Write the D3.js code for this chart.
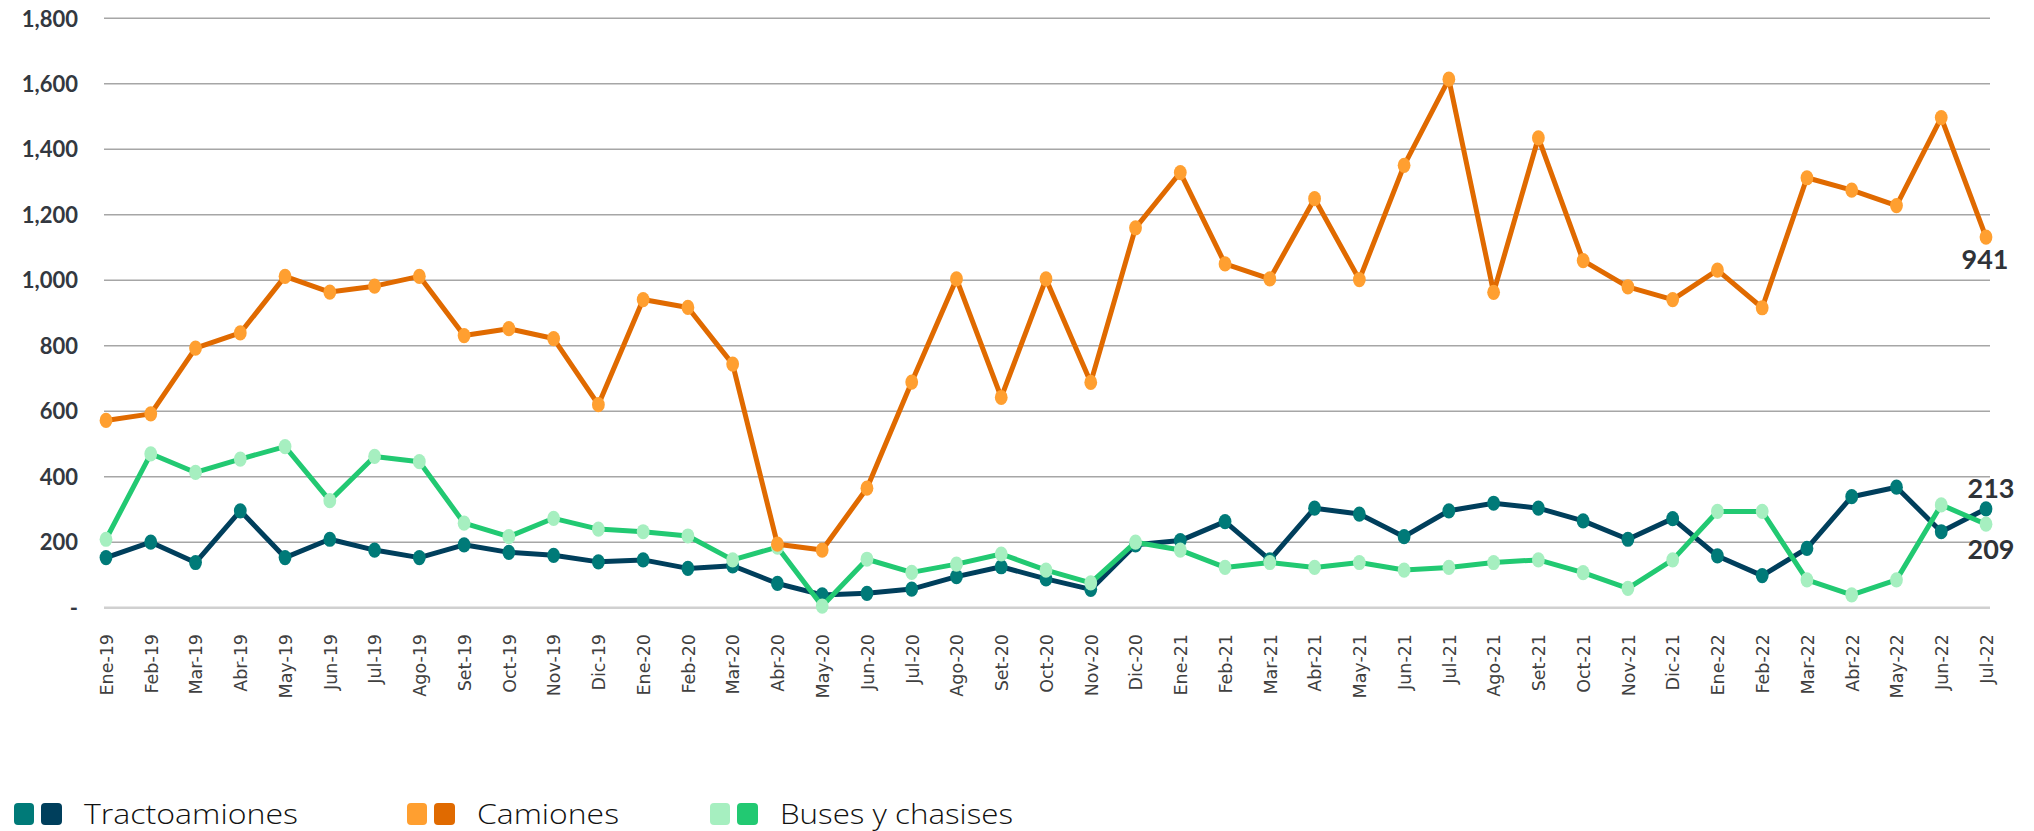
<!DOCTYPE html>
<html>
<head>
<meta charset="utf-8">
<script src="https://cdn.jsdelivr.net/npm/d3@7"></script>
<style>
  html, body { margin: 0; padding: 0; background: #ffffff; }
  svg { display: block; }
</style>
</head>
<body>
<svg id="chart" width="2034" height="831"></svg>
<script>
// Monthly categories, Jan 2019 – Jul 2022
const months = [
  "Ene-19","Feb-19","Mar-19","Abr-19","May-19","Jun-19","Jul-19","Ago-19","Set-19","Oct-19","Nov-19","Dic-19",
  "Ene-20","Feb-20","Mar-20","Abr-20","May-20","Jun-20","Jul-20","Ago-20","Set-20","Oct-20","Nov-20","Dic-20",
  "Ene-21","Feb-21","Mar-21","Abr-21","May-21","Jun-21","Jul-21","Ago-21","Set-21","Oct-21","Nov-21","Dic-21",
  "Ene-22","Feb-22","Mar-22","Abr-22","May-22","Jun-22","Jul-22"
];

const tractocamiones = [
  153,200,138,296,153,209,176,153,192,169,160,140,
  146,120,128,74,39,44,57,95,125,88,56,192,
  205,263,146,304,286,217,296,319,304,265,209,272,
  158,98,181,339,368,232,302
];

const camiones = [
  572,592,793,839,1012,964,982,1012,831,852,822,620,
  941,917,744,194,176,365,689,1004,642,1004,688,1160,
  1329,1050,1004,1249,1002,1351,1614,963,1435,1060,980,941,
  1031,916,1313,1275,1228,1497,1132
];

const buses = [
  209,470,413,454,492,327,462,446,258,217,273,240,
  232,219,146,185,5,148,108,133,164,115,76,200,
  176,123,138,123,138,115,123,138,146,107,59,146,
  294,294,85,39,85,314,255
];

const yTicks = [0,200,400,600,800,1000,1200,1400,1600,1800];

// Text annotations printed next to the final month
const endLabelText = ["213", "941", "209"];

const seriesNames = ["Tractoamiones", "Camiones", "Buses y chasises"];

// Styling per series: line colour, marker colour, annotation offset
const seriesStyle = [
  { line: "#003f5c", marker: "#007a78", labelDx: 5, labelDy: -20 },
  { line: "#e06a00", marker: "#ff9f30", labelDx: -1, labelDy: 23 },
  { line: "#22c972", marker: "#a6efc0", labelDx: 5, labelDy: 25 }
];

const series = [
  { name: seriesNames[0], values: tractocamiones, style: seriesStyle[0], label: endLabelText[0] },
  { name: seriesNames[1], values: camiones,       style: seriesStyle[1], label: endLabelText[1] },
  { name: seriesNames[2], values: buses,          style: seriesStyle[2], label: endLabelText[2] }
];

const svg = d3.select("#chart");

const plot = { left: 104, right: 1990, top: 18.3, bottom: 607.7 };

const x = d3.scalePoint()
  .domain(months)
  .range([106, 1986]);

const y = d3.scaleLinear()
  .domain([0, 1800])
  .range([plot.bottom, plot.top]);

// Horizontal gridlines
const grid = svg.append("g");
grid.selectAll("line")
  .data(yTicks)
  .join("line")
  .attr("x1", plot.left)
  .attr("x2", plot.right)
  .attr("y1", d => y(d))
  .attr("y2", d => y(d))
  .attr("stroke", d => d === 0 ? "#d0d0d0" : "#a6a6a6")
  .attr("stroke-width", d => d === 0 ? 2.5 : 1.5);

// Y axis labels
const fmt = d3.format(",");
const yAxis = d3.axisLeft(y).tickValues(yTicks).tickSize(0)
  .tickFormat(d => d === 0 ? "-" : fmt(d));
const yg = svg.append("g").attr("transform", "translate(82,0)").call(yAxis);
yg.select(".domain").remove();
yg.selectAll("text")
  .attr("x", -4)
  .attr("dy", "0.35em")
  .attr("fill", "#333840")
  .style("font-family", "Lato, 'Open Sans', sans-serif")
  .style("font-weight", 700)
  .style("font-size", "22px");

// X axis labels (rotated)
const xAxis = d3.axisBottom(x).tickSize(0);
const xg = svg.append("g").attr("transform", "translate(0,634)").call(xAxis);
xg.select(".domain").remove();
xg.selectAll("text")
  .attr("transform", "rotate(-90)")
  .attr("x", 0)
  .attr("y", 0)
  .attr("dy", "0.36em")
  .attr("text-anchor", "end")
  .attr("fill", "#404040")
  .style("font-family", "'DejaVu Sans', sans-serif")
  .style("font-size", "17.5px");

// Lines and markers; drawing order keeps Camiones on top
const drawOrder = [series[0], series[2], series[1]];
const line = d3.line()
  .x((d, i) => x(months[i]))
  .y(d => y(d));

drawOrder.forEach(s => {
  const g = svg.append("g");
  g.append("path")
    .datum(s.values)
    .attr("d", line)
    .attr("fill", "none")
    .attr("stroke", s.style.line)
    .attr("stroke-width", 5)
    .attr("stroke-linejoin", "round");
  g.selectAll("ellipse")
    .data(s.values)
    .join("ellipse")
    .attr("cx", (d, i) => x(months[i]))
    .attr("cy", d => y(d))
    .attr("rx", 6.4)
    .attr("ry", 7.6)
    .attr("fill", s.style.marker);
});

// Annotations at the last month
series.forEach(s => {
  const last = s.values.length - 1;
  svg.append("text")
    .attr("x", x(months[last]) + s.style.labelDx)
    .attr("y", y(s.values[last]) + s.style.labelDy)
    .attr("dy", "0.35em")
    .attr("text-anchor", "middle")
    .attr("fill", "#2f3338")
    .style("font-family", "Lato, sans-serif")
    .style("font-weight", 700)
    .style("font-size", "27px")
    .text(s.label);
});

// Legend
const legendPos = [14, 407, 710];
const legendTextWidth = [214, 142, 233];
const legend = svg.append("g");
series.forEach((s, i) => {
  const g = legend.append("g").attr("transform", `translate(${legendPos[i]},803)`);
  g.append("rect").attr("x", 0).attr("y", 0).attr("width", 20).attr("height", 22)
    .attr("rx", 4).attr("fill", s.style.marker);
  g.append("rect").attr("x", 27).attr("y", 0).attr("width", 21).attr("height", 22)
    .attr("rx", 4).attr("fill", s.style.line);
  g.append("text")
    .attr("x", 70)
    .attr("y", 11)
    .attr("dy", "0.36em")
    .attr("fill", "#111111")
    .attr("textLength", legendTextWidth[i])
    .attr("lengthAdjust", "spacingAndGlyphs")
    .style("font-family", "'Open Sans', sans-serif")
    .style("font-weight", 300)
    .style("font-size", "28px")
    .text(s.name);
});
</script>
</body>
</html>
